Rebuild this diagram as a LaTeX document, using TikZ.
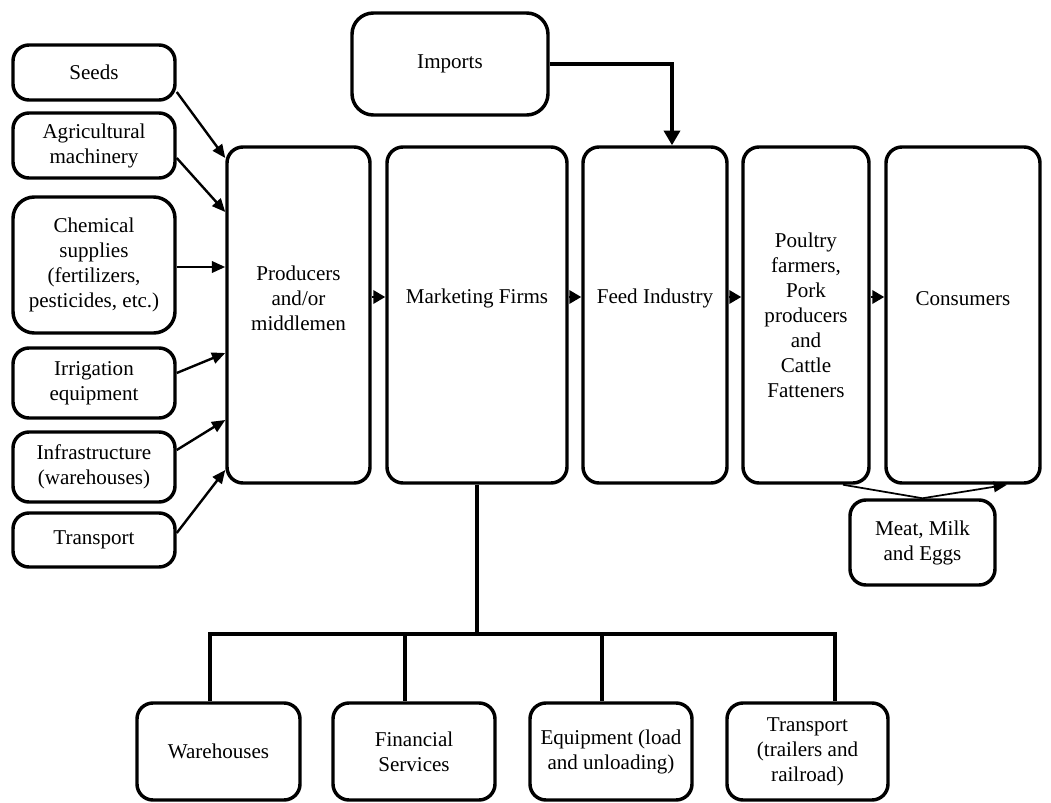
\documentclass[tikz,border=0pt]{standalone}
\usepackage{fontspec}
\setmainfont{Liberation Serif}
\usetikzlibrary{arrows.meta, positioning}

\begin{document}
\begin{tikzpicture}[
    x=0.75pt, y=-0.75pt,
    font=\fontsize{15.8}{18.8}\selectfont,
    box/.style={draw, line width=2.6pt, rounded corners=12pt, align=center, inner sep=2pt},
    boxsize/.style 2 args={minimum width=#1*0.75pt, minimum height=#2*0.75pt},
    raised/.style={align=center, yshift=12.5pt},
    inarrow/.style={-{Triangle[length=10pt,width=8.5pt]}, line width=1.8pt},
    flow/.style={-{Triangle[length=9pt,width=10pt]}, line width=1.8pt},
    tree/.style={line width=2.6pt},
    imparrow/.style={-{Triangle[length=11pt,width=12pt]}, line width=2.6pt},
    meatline/.style={-{Triangle[length=10pt,width=8pt]}, line width=1.3pt},
]
\useasboundingbox (0,0) rectangle (1051,803);

% inputs
\node[box, boxsize={162}{55}] (seeds) at (94,72.5) {Seeds};
\node[box, boxsize={162}{65}] (agri) at (94,145.5) {Agricultural\\machinery};
\node[box, boxsize={162}{136}, rounded corners=16pt] (chem) at (94,265) {Chemical\\supplies\\(fertilizers,\\pesticides, etc.)};
\node[box, boxsize={162}{70}] (irrig) at (94,383) {Irrigation\\equipment};
\node[box, boxsize={162}{70}] (infra) at (94,467) {Infrastructure\\(warehouses)};
\node[box, boxsize={162}{54}] (transp) at (94,540) {Transport};

% chain
\node[box, boxsize={143}{336}, label={[raised]center:Producers\\and/or\\middlemen}] (prod) at (298.5,315) {};
\node[box, boxsize={180}{336}, label={[raised]center:Marketing Firms}] (mkt) at (477,315) {};
\node[box, boxsize={144}{336}, label={[raised]center:Feed Industry}] (feed) at (655,315) {};
\node[box, boxsize={126}{336}] (poul) at (806,315) {Poultry\\farmers,\\Pork\\producers\\and\\Cattle\\Fatteners};
\node[box, boxsize={154}{336}, label={[raised]center:Consumers}] (cons) at (963,315) {};

\node[box, boxsize={196}{102}, rounded corners=16pt] (imports) at (450,64) {Imports};
\node[box, boxsize={145}{85}] (meat) at (922.5,542.5) {Meat, Milk\\and Eggs};

% services
\node[box, boxsize={163}{97}] (wareh) at (218.5,751.5) {Warehouses};
\node[box, boxsize={162}{97}] (fin) at (414,751.5) {Financial\\Services};
\node[box, boxsize={162}{97}] (equip) at (611,751.5) {Equipment (load\\and unloading)};
\node[box, boxsize={161}{97}] (trailer) at (807.5,751.5) {Transport\\(trailers and\\railroad)};

% arrows into producers
\draw[inarrow] (seeds.east |- 0,92) -- (prod.west |- 0,158);
\draw[inarrow] (agri.east |- 0,158) -- (prod.west |- 0,212);
\draw[inarrow] (chem.east |- 0,267) -- (prod.west |- 0,267);
\draw[inarrow] (irrig.east |- 0,373) -- (prod.west |- 0,353);
\draw[inarrow] (infra.east |- 0,450) -- (prod.west |- 0,420);
\draw[inarrow] (transp.east |- 0,533) -- (prod.west |- 0,470);

\foreach \a/\b in {prod/mkt, mkt/feed, feed/poul, poul/cons}
  \draw[flow] (\a.east |- 0,297) -- (\b.west |- 0,297);

\draw[imparrow] (imports.east) -| (feed.north -| 672,0);
\draw[meatline] (poul.south -| 843,0) -- (meat.north) -- (cons.south -| 1007,0);

% tree below marketing firms
\coordinate (busL) at (210,634);
\coordinate (busR) at (835,634);
\draw[tree] (mkt.south) -- (mkt.south |- busL);
\draw[tree] (wareh.north -| busL) -- (busL) -- (busR) -- (trailer.north -| busR);
\foreach \b/\x in {fin/405, equip/602}
  \draw[tree] (\x,634) -- (\b.north -| \x,0);
\end{tikzpicture}
\end{document}
